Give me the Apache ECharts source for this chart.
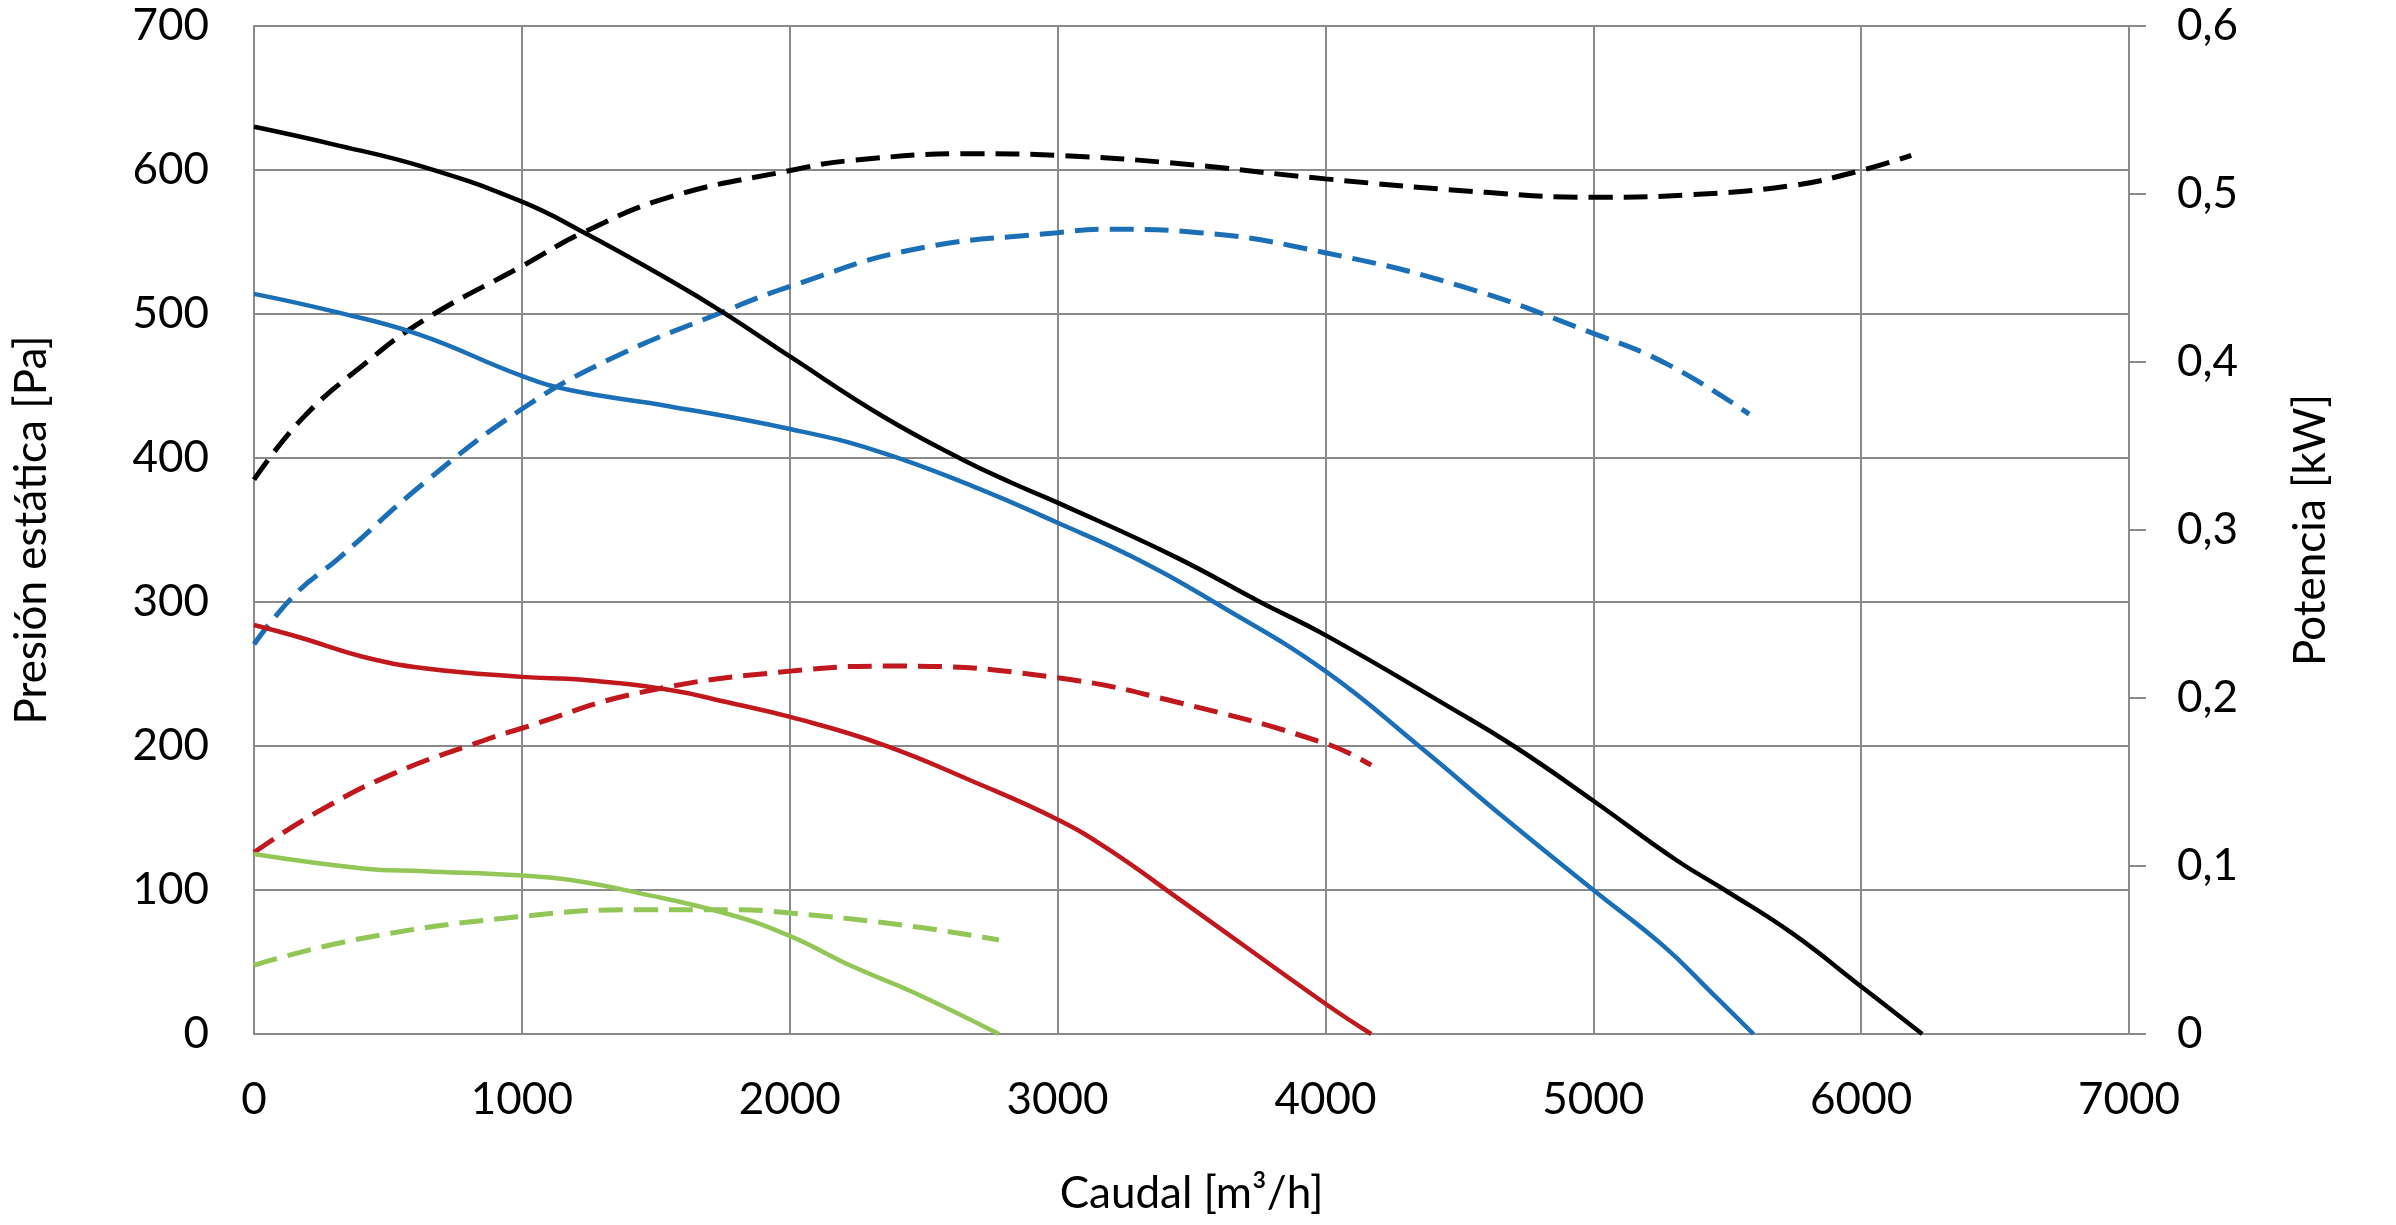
<!DOCTYPE html>
<html>
<head>
<meta charset="utf-8">
<script src="https://cdn.jsdelivr.net/npm/echarts@6/dist/echarts.min.js"></script>
<style>
html,body{margin:0;padding:0;background:#fff;}
#chart{width:2396px;height:1225px;}
</style>
</head>
<body>
<div id="chart"></div>
<script>
// Static pressure curves [Pa] (left axis)
const blackPresX = [0,292,635,1000,1228,1548,1753,2005,2347,2644,2826,3000,3443,3756,4000,4463,4703,5000,5308,5491,5742,6000,6228];
const blackPresY = [630,618,602,578,557,524,501,470,429,399,383,369,331,300,277,227,200,162,121,100,70,33,0];
const bluePresX = [0,292,612,1000,1183,1548,2005,2324,2689,3000,3283,3620,4000,4349,4669,5000,5263,5445,5598];
const bluePresY = [514,502,486,457,447,436,420,405,380,355,331,296,252,200,150,100,61,28,0];
const redPresX = [0,178,406,635,1000,1228,1548,1776,2005,2347,2689,3000,3192,3459,4000,4171];
const redPresY = [284,275,262,254,248,246,239,230,220,201,175,149,128,93,21,0];
const greenPresX = [0,406,635,1000,1183,1434,1776,2002,2233,2461,2781];
const greenPresY = [125,115,113,110,107,98,83,68,47,29,0];

// Power curves [kW] (right axis)
const blackPowX = [0,178,406,635,1000,1228,1548,2002,2233,2689,3000,3459,4000,4600,5000,5354,5742,6000,6187];
const blackPowY = [0.330,0.366,0.398,0.425,0.457,0.477,0.498,0.514,0.520,0.524,0.523,0.518,0.509,0.501,0.498,0.4995,0.505,0.514,0.523];
const bluePowX = [0,155,315,635,1000,1320,1753,2002,2461,3000,3192,3530,4000,4509,5000,5285,5582];
const bluePowY = [0.232,0.262,0.283,0.328,0.372,0.401,0.430,0.445,0.467,0.477,0.479,0.477,0.465,0.445,0.417,0.398,0.369];
const redPowX = [0,224,521,863,1000,1434,2002,2416,3000,3459,4000,4171];
const redPowY = [0.108,0.131,0.155,0.175,0.182,0.203,0.216,0.219,0.212,0.197,0.173,0.160];
const greenPowX = [0,406,1000,1434,1776,2002,2461,2781];
const greenPowY = [0.041,0.057,0.070,0.074,0.074,0.072,0.064,0.056];

const xAxisName = 'Caudal [m³/h]';
const yLeftName = 'Presión estática [Pa]';
const yRightName = 'Potencia [kW]';

const BLACK = '#000000', BLUE = '#1b6fb6', RED = '#c0181c', GREEN = '#92c656';
const FONT = 'Lato';
const GRIDC = '#8a8a8a';

function zip(xs, ys){ return xs.map((x,i)=>[x, ys[i]]); }

function solid(name, xs, ys, color){
  return {name, type:'line', yAxisIndex:0, data:zip(xs,ys), smooth:0.45, showSymbol:false, symbol:'none',
    lineStyle:{color, width:4.5}, z:3};
}
function dashed(name, xs, ys, color){
  return {name, type:'line', yAxisIndex:1, data:zip(xs,ys), smooth:0.45, showSymbol:false, symbol:'none',
    lineStyle:{color, width:5, type:[24,11], cap:'butt'}, z:2};
}

const chart = echarts.init(document.getElementById('chart'), null, {renderer:'canvas'});
chart.setOption({
  animation:false,
  backgroundColor:'#fff',
  grid:{left:254, top:26, right:267, bottom:191, containLabel:false},
  xAxis:{
    type:'value', min:0, max:7000, interval:1000,
    name:xAxisName, nameLocation:'middle', nameGap:138,
    nameTextStyle:{fontFamily:FONT, fontSize:44, color:'#000'},
    axisLine:{show:true, lineStyle:{color:GRIDC, width:2}},
    axisTick:{show:false},
    axisLabel:{fontFamily:FONT, fontSize:44, color:'#000', margin:44, formatter:v => String(v)},
    splitLine:{show:true, lineStyle:{color:GRIDC, width:2}}
  },
  yAxis:[
    {
      type:'value', min:0, max:700, interval:100, position:'left',
      name:yLeftName, nameLocation:'middle', nameGap:200, nameRotate:90,
      nameTextStyle:{fontFamily:FONT, fontSize:44, color:'#000'},
      axisLine:{show:true, lineStyle:{color:GRIDC, width:2}},
      axisTick:{show:false},
      axisLabel:{fontFamily:FONT, fontSize:44, color:'#000', margin:45, formatter:v => String(v)},
      splitLine:{show:true, lineStyle:{color:GRIDC, width:2}}
    },
    {
      type:'value', min:0, max:0.6, interval:0.1, position:'right',
      name:yRightName, nameLocation:'middle', nameGap:160, nameRotate:90,
      nameTextStyle:{fontFamily:FONT, fontSize:44, color:'#000'},
      axisLine:{show:true, lineStyle:{color:GRIDC, width:2}},
      axisTick:{show:true, inside:false, length:17, lineStyle:{color:GRIDC, width:2}},
      axisLabel:{fontFamily:FONT, fontSize:44, color:'#000', margin:48,
        formatter:v => (Math.round(v*10)/10).toString().replace('.', ',')},
      splitLine:{show:false}
    }
  ],
  series:[
    dashed('P negro', blackPowX, blackPowY, BLACK),
    dashed('P azul', bluePowX, bluePowY, BLUE),
    dashed('P rojo', redPowX, redPowY, RED),
    dashed('P verde', greenPowX, greenPowY, GREEN),
    solid('Negro', blackPresX, blackPresY, BLACK),
    solid('Azul', bluePresX, bluePresY, BLUE),
    solid('Rojo', redPresX, redPresY, RED),
    solid('Verde', greenPresX, greenPresY, GREEN)
  ]
});
</script>
</body>
</html>
